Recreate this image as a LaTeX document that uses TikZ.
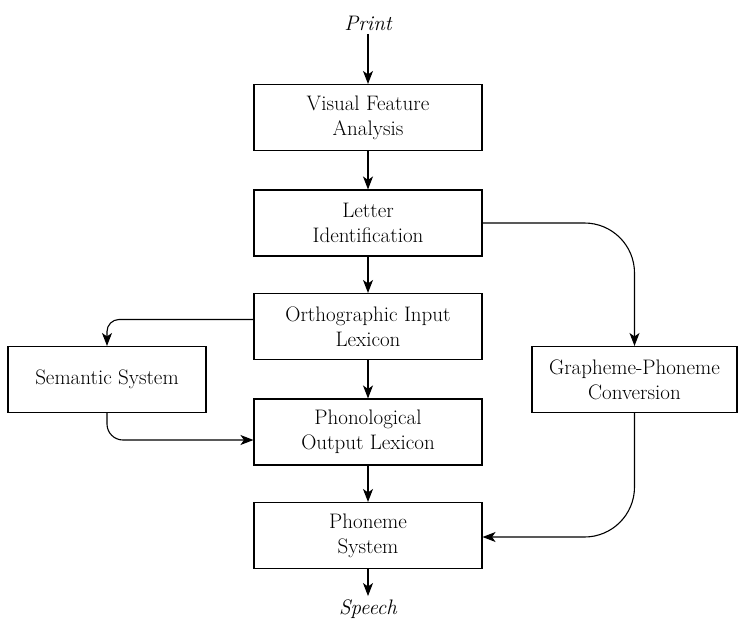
\documentclass[tikz,border=0pt]{standalone}
\usetikzlibrary{arrows.meta}

\begin{document}
\begin{tikzpicture}[x=1pt, y=-1pt, every node/.style={font=\fontsize{21}{25}\selectfont}]
        % basic settings
        \def\W{228} % width of the middle boxes
        \def\H{66}  % height of all boxes
        \useasboundingbox (0,0) rectangle (739,629);

        \tikzstyle{stagebox} = [draw=black, line width=1.1pt, fill=white, minimum width=\W pt, minimum height=\H pt, inner sep=2pt, align=center]
        \tikzstyle{flow} = [line width=1.1pt, -{Stealth[length=13pt, width=10pt, inset=3.5pt]}]

        % 1. input and output words
        \node[font=\fontsize{21}{25}\selectfont\itshape] (print) at (368, 23) {Print};
        \node[font=\fontsize{21}{25}\selectfont\itshape] (speech) at (368, 609) {Speech};

        % 2. middle column
        \node[stagebox] (visual) at (368, 117.5) {Visual Feature\\Analysis};
        \node[stagebox] (letter) at (368, 223) {Letter\\Identification};
        \node[stagebox] (ortho) at (368, 326.5) {Orthographic Input\\Lexicon};
        \node[stagebox] (phono) at (368, 432) {Phonological\\Output Lexicon};
        \node[stagebox] (phoneme) at (368, 535.5) {Phoneme\\System};

        % 3. side boxes
        \node[stagebox, minimum width=198pt] (semantic) at (107, 379.5) {Semantic System};
        \node[stagebox, minimum width=205pt] (grapheme) at (634.5, 379.5) {Grapheme-Phoneme\\Conversion};

        % straight arrows
        \draw[flow] (print) -- (visual);
        \draw[flow] (visual) -- (letter);
        \draw[flow] (letter) -- (ortho);
        \draw[flow] (ortho) -- (phono);
        \draw[flow] (phono) -- (phoneme);
        \draw[flow] (phoneme) -- (speech);

        % lexical route through the semantic system
        \draw[flow, rounded corners=12pt] ([yshift=7pt]ortho.west) -| (semantic.north);
        \draw[flow, rounded corners=16pt] (semantic.south) |- ([yshift=-8pt]phono.west);

        % sub-lexical route
        \draw[flow, rounded corners=50pt] (letter.east) -| (grapheme.north);
        \draw[flow, rounded corners=50pt] (grapheme.south) |- ([yshift=-1.5pt]phoneme.east);

    \end{tikzpicture}
\end{document}
